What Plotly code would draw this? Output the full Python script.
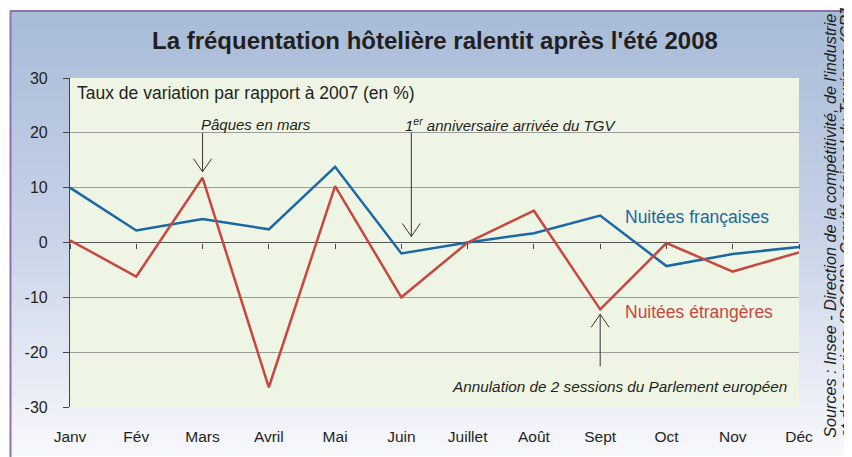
import plotly.graph_objects as go

months = ["Janv", "Fév", "Mars", "Avril", "Mai", "Juin", "Juillet", "Août", "Sept", "Oct", "Nov", "Déc"]
nuitees_francaises = [10.0, 2.2, 4.3, 2.4, 13.8, -2.0, 0.0, 1.7, 4.9, -4.3, -2.1, -0.8]
nuitees_etrangeres = [0.4, -6.2, 11.8, -26.4, 10.3, -10.0, 0.0, 5.8, -12.2, -0.1, -5.3, -1.8]
y_ticks = [30, 20, 10, 0, -10, -20, -30]
y_tick_labels = ["30", "20", "10", "0", "-10", "-20", "-30"]

BLUE = "#1b68a6"
RED = "#c8473f"
TXT = "#231f20"
ARROW = "#333333"
FONT = "Liberation Sans, Arial, sans-serif"

OFF = 8  # default page body margin
W, H = 852 - OFF, 457 - OFF
# plot area in screen pixels: x 70..799, y 78..409
ML, MR = 70 - OFF, W - (799 - OFF)
MT, MB = 78 - OFF, H - (409 - OFF)
PW, PH = W - ML - MR, H - MT - MB

def px(xs):
    """screen x pixel -> paper fraction"""
    return (xs - OFF - ML) / PW

def py(ys):
    """screen y pixel -> paper fraction"""
    return (H - MB - (ys - OFF)) / PH

x_idx = list(range(len(months)))

fig = go.Figure()
fig.add_trace(go.Scatter(x=x_idx, y=nuitees_francaises, mode="lines",
                         line=dict(color=BLUE, width=2.5), showlegend=False, hoverinfo="skip"))
fig.add_trace(go.Scatter(x=x_idx, y=nuitees_etrangeres, mode="lines",
                         line=dict(color=RED, width=2.5), showlegend=False, hoverinfo="skip"))
# invisible trace to carry the zero-line tick axis
fig.add_trace(go.Scatter(x=x_idx, y=[0] * len(months), xaxis="x2", mode="lines",
                         line=dict(width=0), showlegend=False, hoverinfo="skip", opacity=0))

# gradient background (styling only)
shapes = []
n = 60
top_c = (168, 188, 216)
mid_c = (200, 211, 232)
bot_c = (247, 248, 252)
y_top, y_bot = 10, 457
for i in range(n):
    t = i / (n - 1)
    if t < 0.5:
        u = t / 0.5
        c = tuple(int(top_c[k] + (mid_c[k] - top_c[k]) * u) for k in range(3))
    else:
        u = (t - 0.5) / 0.5
        c = tuple(int(mid_c[k] + (bot_c[k] - mid_c[k]) * u) for k in range(3))
    y0 = y_top + (y_bot - y_top) * i / n
    y1 = y_top + (y_bot - y_top) * (i + 1) / n + 1
    shapes.append(dict(type="rect", xref="paper", yref="paper", layer="below",
                       x0=px(10), x1=px(862), y0=py(y1), y1=py(y0),
                       fillcolor="rgb(%d,%d,%d)" % c, line=dict(width=0)))
# plot area fill
shapes.append(dict(type="rect", xref="paper", yref="paper", layer="below",
                   x0=0, x1=1, y0=0, y1=1, fillcolor="#eff5e5", line=dict(width=0)))
# frame
shapes.append(dict(type="line", xref="paper", yref="paper", x0=px(10.5), x1=px(10.5),
                   y0=py(10), y1=py(470), line=dict(color="#9070b0", width=2)))
shapes.append(dict(type="line", xref="paper", yref="paper", x0=px(10), x1=px(870),
                   y0=py(10.5), y1=py(10.5), line=dict(color="#9070b0", width=2)))

# open V arrowheads (pixel-sized, anchored at the arrow tips)
def vhead(xa, ya, down=True, hw=9, hh=13):
    s = 1 if down else -1
    return dict(type="path", xref="x", yref="y", xsizemode="pixel", ysizemode="pixel",
                xanchor=xa, yanchor=ya,
                path="M%d,%d L0,0 L%d,%d" % (-hw, s * hh, hw, s * hh),
                line=dict(color=ARROW, width=1))

arrows = [  # (x, tip y, tail y)
    (2.0, 12.9, 20.0),
    (5.15, 1.1, 20.0),
    (8.0, -13.1, -22.6),
]
for xa, tip, tail in arrows:
    shapes.append(dict(type="line", xref="x", yref="y", x0=xa, x1=xa, y0=tail, y1=tip,
                       line=dict(color=ARROW, width=1)))
    shapes.append(vhead(xa, tip, down=tail > tip))

annotations = [
    dict(text="<b>La fréquentation hôtelière ralentit après l'été 2008</b>", xref="paper", yref="paper",
         x=px(435), y=py(40), xanchor="center", yanchor="middle", showarrow=False,
         font=dict(family=FONT, size=24, color=TXT)),
    dict(text="Taux de variation par rapport à 2007 (en %)", xref="paper", yref="y",
         x=px(75), y=27.2, xanchor="left", yanchor="middle", showarrow=False,
         font=dict(family=FONT, size=17.5, color=TXT)),
    dict(text="<i>Pâques en mars</i>", xref="x", yref="y", x=1.95, y=21.6,
         xanchor="left", yanchor="middle", showarrow=False,
         font=dict(family=FONT, size=15, color=TXT)),
    dict(text="<i>1<sup>er</sup> anniversaire arrivée du TGV</i>", xref="x", yref="y", x=5.02, y=21.6,
         xanchor="left", yanchor="middle", showarrow=False,
         font=dict(family=FONT, size=15, color=TXT)),
    dict(text="<i>Annulation de 2 sessions du Parlement européen</i>", xref="x", yref="y", x=5.74, y=-26.3,
         xanchor="left", yanchor="middle", showarrow=False,
         font=dict(family=FONT, size=15.3, color=TXT)),
    dict(text="Nuitées françaises", xref="x", yref="y", x=8.35, y=4.7,
         xanchor="left", yanchor="middle", showarrow=False,
         font=dict(family=FONT, size=17.5, color=BLUE)),
    dict(text="Nuitées étrangères", xref="x", yref="y", x=8.35, y=-12.7,
         xanchor="left", yanchor="middle", showarrow=False,
         font=dict(family=FONT, size=17.5, color=RED)),
    dict(text="<i>Sources : Insee - Direction de la compétitivité, de l'industrie</i>",
         xref="paper", yref="paper", x=px(830), y=py(442), xanchor="center", yanchor="bottom",
         textangle=-90, showarrow=False,
         font=dict(family=FONT, size=16.2, color=TXT)),
    dict(text="<i>et des services (DGCIS), Comité régional du Tourisme (CRT)</i>",
         xref="paper", yref="paper", x=px(846), y=py(442), xanchor="center", yanchor="bottom",
         textangle=-90, showarrow=False,
         font=dict(family=FONT, size=16.2, color=TXT)),
]

fig.update_layout(
    width=W, height=H,
    margin=dict(l=ML, r=MR, t=MT, b=MB, pad=0),
    paper_bgcolor="white", plot_bgcolor="rgba(0,0,0,0)",
    shapes=shapes, annotations=annotations,
    font=dict(family=FONT, size=16, color=TXT),
    xaxis=dict(range=[0, 11], tickvals=x_idx, ticktext=months, showgrid=False, zeroline=False,
               showline=False, ticks="", tickfont=dict(size=15.5, color=TXT), ticklabelstandoff=18,
               fixedrange=True),
    xaxis2=dict(range=[0, 11], overlaying="x", anchor="free", position=0.5, tickvals=x_idx,
                showticklabels=False, ticks="outside", ticklen=5, tickcolor="#444", tickwidth=1,
                showgrid=False, zeroline=False, showline=False, side="bottom"),
    yaxis=dict(range=[-30, 30], tickvals=y_ticks, ticktext=y_tick_labels,
               showgrid=True, gridcolor="#9c9c9c", gridwidth=1,
               zeroline=True, zerolinecolor="#555555", zerolinewidth=1.2,
               showline=True, linecolor="#444444", linewidth=1.2, ticks="outside", ticklen=6,
               tickcolor="#444444", tickfont=dict(size=16, color=TXT), ticklabelstandoff=12,
               fixedrange=True),
)

fig.write_html("out.html")
